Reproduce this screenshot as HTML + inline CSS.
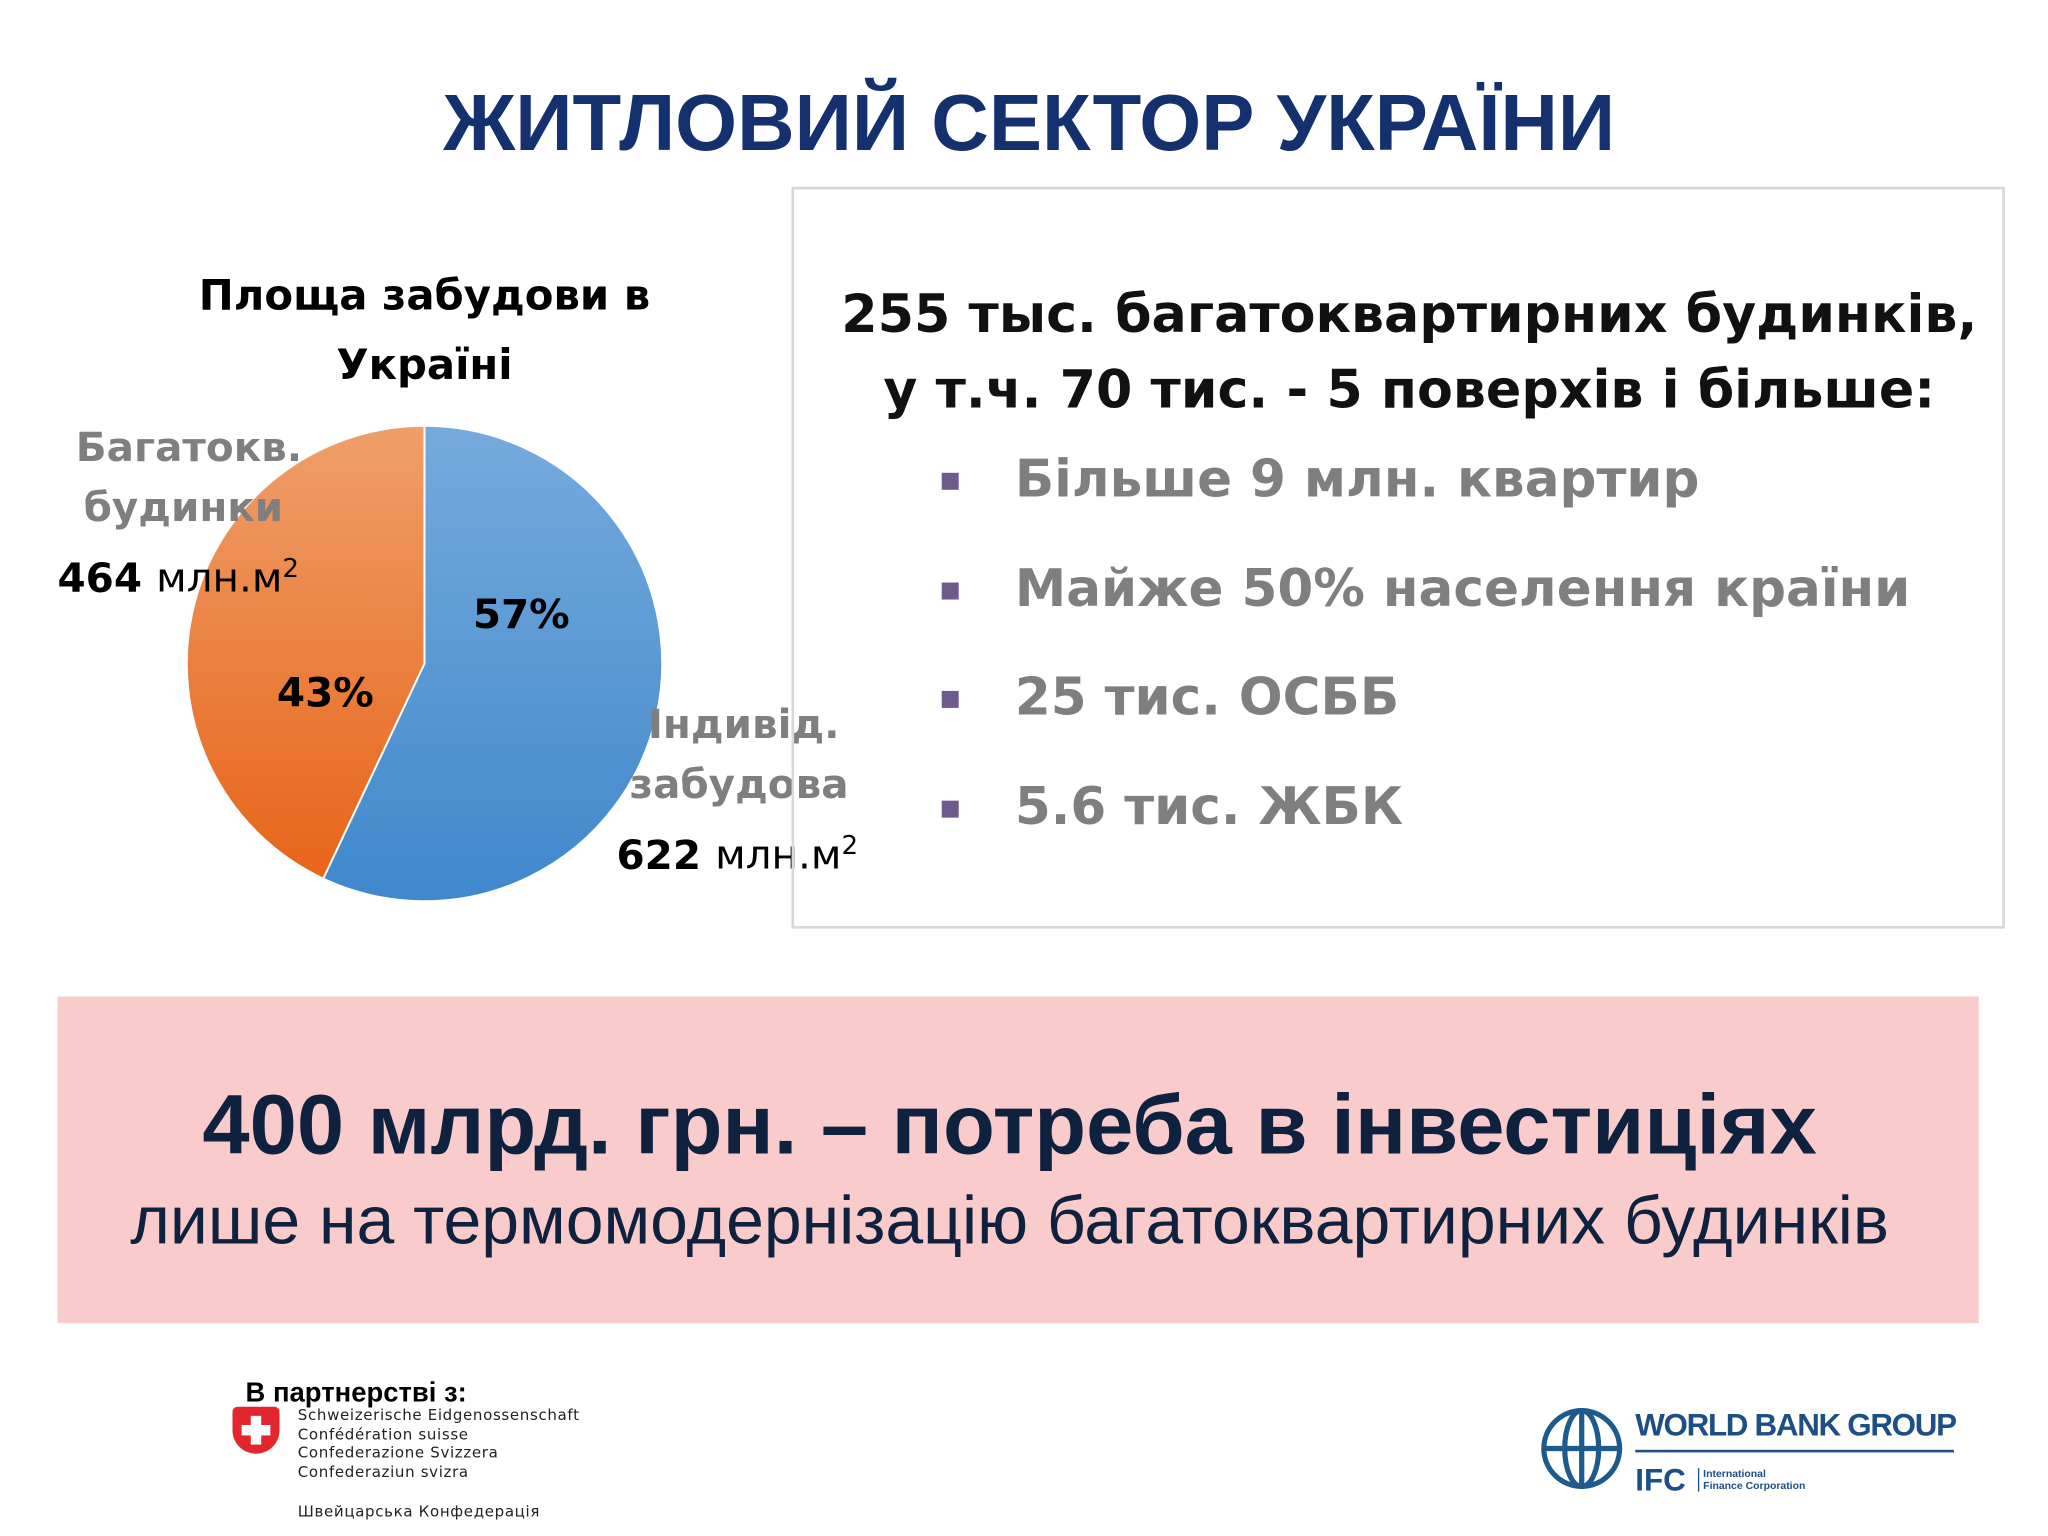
<!DOCTYPE html>
<html><head><meta charset="utf-8">
<style>
html,body{margin:0;padding:0;background:#fff;width:2048px;height:1536px;overflow:hidden}
#s{position:absolute;left:0;top:0;width:1568px;height:1176px;transform:scale(1.30612);transform-origin:0 0;font-family:"Liberation Sans","DejaVu Sans",sans-serif}
.a{position:absolute;white-space:nowrap}
.dv{font-family:"DejaVu Sans","Liberation Sans",sans-serif}
</style></head><body>
<div id="s">
<div class="a" style="left:0;width:1576px;text-align:center;top:59px;font-size:61px;font-weight:bold;color:#14306e">ЖИТЛОВИЙ СЕКТОР УКРАЇНИ</div>

<div class="a dv" style="left:100px;width:450px;text-align:center;top:200px;font-size:32px;font-weight:bold;line-height:53px;color:#000">Площа забудови в<br>Україні</div>

<svg class="a" style="left:0;top:0" width="700" height="720">
<defs>
<linearGradient id="gb" x1="0" y1="0" x2="0" y2="1"><stop offset="0" stop-color="#76aadc"/><stop offset="1" stop-color="#3f88cc"/></linearGradient>
<linearGradient id="go" x1="0" y1="0" x2="0" y2="1"><stop offset="0" stop-color="#ef9f6a"/><stop offset="1" stop-color="#e86418"/></linearGradient>
</defs>
<g id="pie"></g>
</svg>

<div class="a dv" style="left:44px;top:320px;font-size:31px;line-height:46px;color:#7f7f7f;font-weight:bold"><span style="margin-left:14px">Багатокв.</span><br><span style="margin-left:20px">будинки</span><br><span style="color:#000">464 <span style="font-weight:normal">млн.м<sup style="font-size:20px">2</sup></span></span></div>
<div class="a dv" style="left:472px;top:532px;font-size:31px;line-height:46px;color:#7f7f7f;font-weight:bold"><span style="margin-left:24px">Індивід.</span><br><span style="margin-left:10px">забудова</span><br><span style="color:#000">622 <span style="font-weight:normal">млн.м<sup style="font-size:20px">2</sup></span></span></div>
<div class="a dv" style="left:362px;top:453px;font-size:31px;font-weight:bold;color:#000">57%</div>
<div class="a dv" style="left:212px;top:513px;font-size:31px;font-weight:bold;color:#000">43%</div>

<div class="a" style="left:606px;top:143px;width:929px;height:568px;border:2px solid #d8d8d8;box-sizing:border-box"></div>
<div class="a dv" style="left:606px;width:946px;text-align:center;top:212px;font-size:40px;font-weight:bold;line-height:58px;color:#111">255 тыс. багатоквартирних будинків,<br>у т.ч. 70 тис. - 5 поверхів і більше:</div>
<div id="bul"></div>

<div class="a" style="left:44px;top:763px;width:1471px;height:250px;background:#facbcb"></div>
<div class="a" style="left:73px;width:1400px;text-align:center;top:823px;font-size:65px;font-weight:bold;color:#0e2240">400 млрд. грн. – потреба в інвестиціях</div>
<div class="a" style="left:73px;width:1400px;text-align:center;top:905px;font-size:52px;color:#0e2240">лише на термомодернізацію багатоквартирних будинків</div>

<div class="a" style="left:188px;top:1055px;font-size:21px;font-weight:bold;color:#000">В партнерстві з:</div>
<div class="a" style="left:178px;top:1077px;width:36px;height:36px;background:#e3262d;border-radius:4px 4px 18px 18px"><div style="position:absolute;left:14px;top:7px;width:8px;height:22px;background:#fff"></div><div style="position:absolute;left:7px;top:14px;width:22px;height:8px;background:#fff"></div></div>
<div class="a dv" style="left:228px;top:1076px;font-size:11.5px;line-height:14.5px;color:#222;letter-spacing:.5px">Schweizerische Eidgenossenschaft<br>Confédération suisse<br>Confederazione Svizzera<br>Confederaziun svizra<br><br><span style="line-height:16px">Швейцарська Конфедерація</span></div>

<svg class="a" style="left:1178px;top:1076px" width="66" height="66"><g fill="none" stroke="#1d5a8e" stroke-width="4"><circle cx="33" cy="33" r="29"/><ellipse cx="33" cy="33" rx="13" ry="29"/><line x1="4" y1="33" x2="62" y2="33"/><line x1="33" y1="4" x2="33" y2="62"/></g></svg>
<div class="a" style="left:1252px;top:1078px;font-size:24px;font-weight:bold;color:#1d4f86;letter-spacing:-1px">WORLD BANK GROUP</div>
<div class="a" style="left:1252px;top:1110px;width:244px;height:2px;background:#1d4f86"></div>
<div class="a" style="left:1252px;top:1120px;font-size:24px;font-weight:bold;color:#1d4f86">IFC</div>
<div class="a" style="left:1300px;top:1124px;font-size:8px;line-height:9px;font-weight:bold;color:#1d4f86;border-left:1px solid #1d4f86;padding-left:3px">International<br>Finance Corporation</div>
</div>
<script>
const categories=["Індивід. забудова","Багатокв. будинки"];
const values=[57,43];
const fills=["url(#gb)","url(#go)"];
const cx=325,cy=508,r=182;
const g=document.getElementById('pie');
const tot=values.reduce((a,b)=>a+b,0);
let a0=0;
values.forEach((v,i)=>{
  const a1=a0+v/tot*2*Math.PI;
  const x0=cx+r*Math.sin(a0),y0=cy-r*Math.cos(a0),x1=cx+r*Math.sin(a1),y1=cy-r*Math.cos(a1);
  const p=document.createElementNS('http://www.w3.org/2000/svg','path');
  p.setAttribute('d',`M${cx},${cy}L${x0},${y0}A${r},${r} 0 ${(a1-a0)>Math.PI?1:0} 1 ${x1},${y1}Z`);
  p.setAttribute('fill',fills[i]);p.setAttribute('stroke','#fff');p.setAttribute('stroke-width','1.5');
  
  
  g.appendChild(p);a0=a1;
});
const bullets=["Більше 9 млн. квартир","Майже 50% населення країни","25 тис. ОСББ","5.6 тис. ЖБК"];
const b=document.getElementById('bul');
bullets.forEach((t,i)=>{
  const y=344+i*83.5;
  const sq=document.createElement('div');sq.className='a';
  sq.style.cssText=`left:721px;top:${y+18}px;width:13px;height:13px;background:#6e5a8c`;
  
  
  b.appendChild(sq);
  const d=document.createElement('div');d.className='a dv';
  d.style.cssText=`left:777px;top:${y}px;font-size:39.5px;font-weight:bold;color:#7f7f7f`;
  d.textContent=t;
  
  
  b.appendChild(d);
});
</script>
</body></html>
